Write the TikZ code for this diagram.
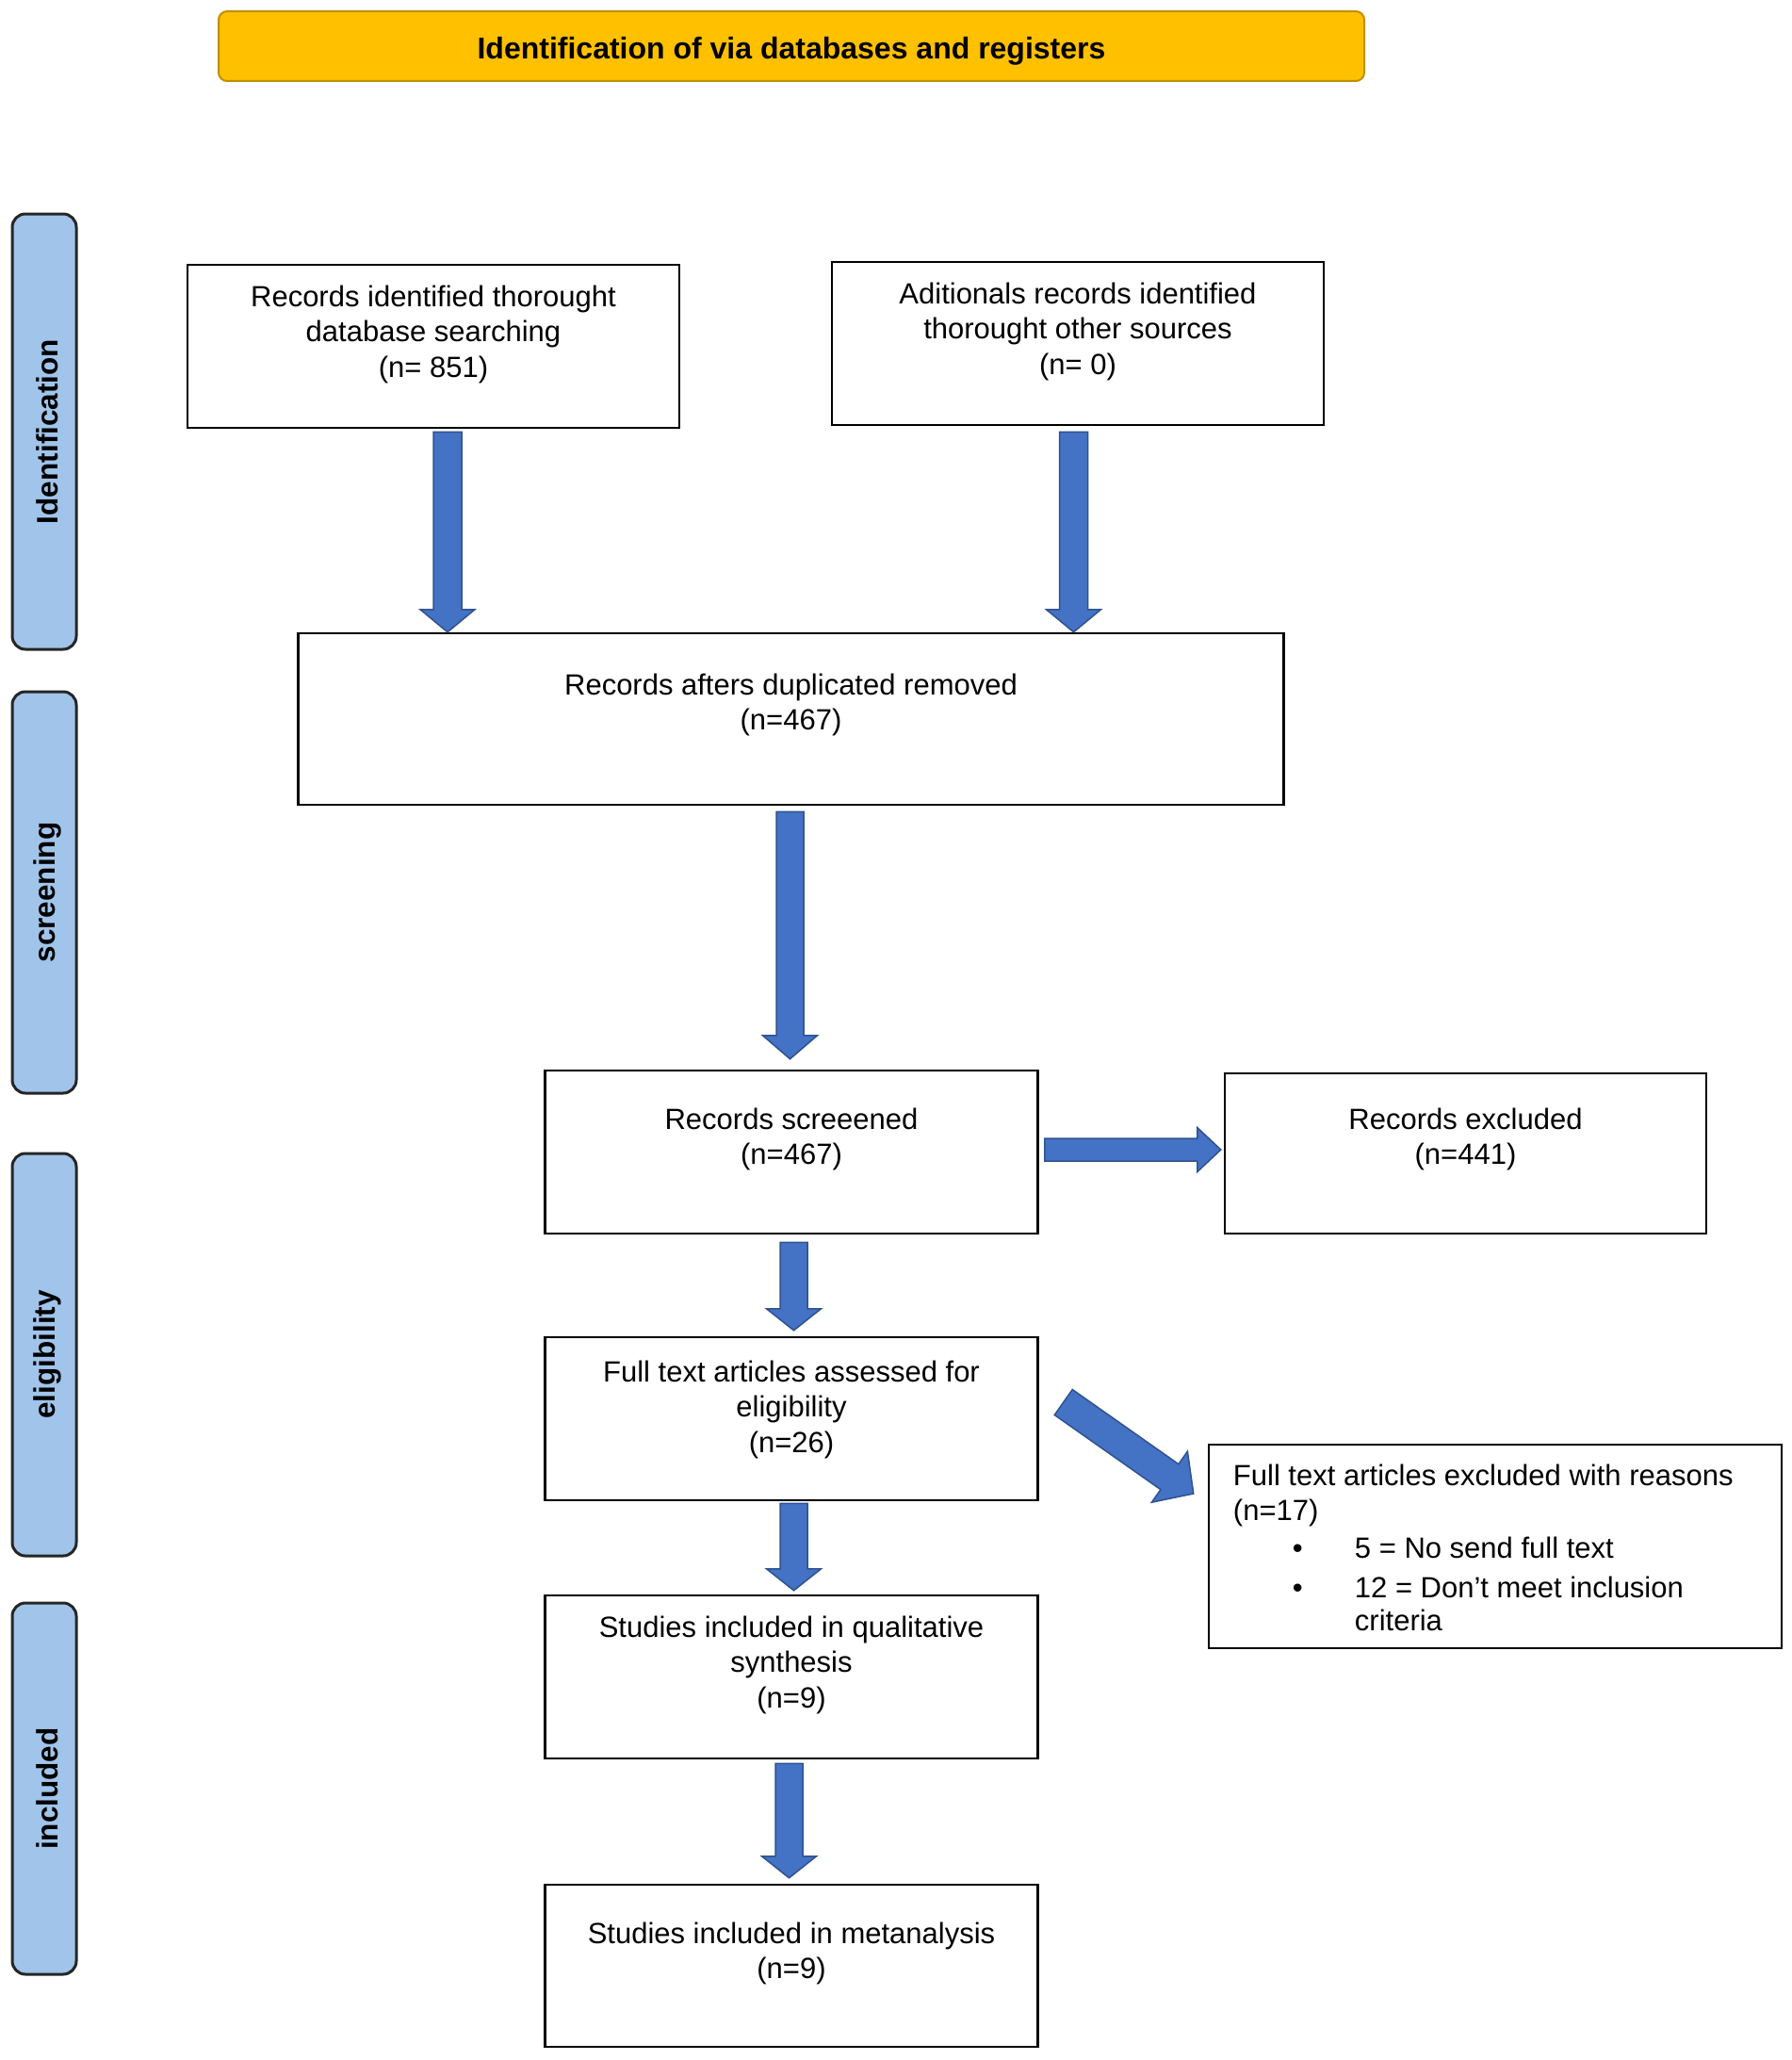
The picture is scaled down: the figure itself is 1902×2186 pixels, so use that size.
\documentclass[tikz,border=0pt]{standalone}
\usepackage{fontspec}
\setmainfont{Liberation Sans}
\usetikzlibrary{calc}
\definecolor{arrowblue}{HTML}{4472C4}
\definecolor{arrowedge}{HTML}{2F528F}
\definecolor{sideblue}{HTML}{A0C4EA}
\definecolor{bannerfill}{HTML}{FFC000}
\definecolor{banneredge}{HTML}{BF9000}
% block arrow: start, end, shaft half width, head half width, head length
\newcommand\blockarrow[5]{%
  \coordinate (bs) at (#1);
  \coordinate (be) at (#2);
  \coordinate (bh) at ($(be)!#5!(bs)$);
  \filldraw[blockarr] ($(bs)!#3!90:(be)$) -- ($(bh)!#3!90:(be)$) -- ($(bh)!#4!90:(be)$)
     -- (be) -- ($(bh)!#4!-90:(be)$) -- ($(bh)!#3!-90:(be)$) -- ($(bs)!#3!-90:(be)$) -- cycle;}
\begin{document}
\begin{tikzpicture}[x=1pt,y=-1pt,
  box/.style={draw=black, line width=2.5pt, fill=white, inner sep=0pt},
  txt/.style={anchor=north, align=center, inner sep=0pt, font=\fontsize{31}{37.5}\selectfont},
  side/.style={draw=black!85, line width=3pt, fill=sideblue, rounded corners=14pt, inner sep=0pt},
  sidetxt/.style={rotate=90, inner sep=0pt, font=\bfseries\fontsize{31.5}{37}\selectfont},
  bannerbox/.style={draw=banneredge, line width=2pt, fill=bannerfill, rounded corners=9pt, inner sep=0pt},
  bannertxt/.style={inner sep=0pt, font=\bfseries\fontsize{32}{38}\selectfont},
  blockarr/.style={fill=arrowblue, draw=arrowedge, line width=1.5pt, line join=miter}]
\useasboundingbox (0,0) rectangle (1902,2186);
\fill[white] (0,0) rectangle (1902,2186);

% banner
\node[bannerbox, minimum width=1216pt, minimum height=74pt] (ban) at (840,49) {};
\node[bannertxt] (bant) at ($(ban)+(0,5)$) {Identification of via databases and registers};

% side labels
\node[side, minimum width=68pt, minimum height=462pt] (s1) at (47,458) {};
\node[sidetxt] (s1t) at ($(s1)+(3,0)$) {Identification};
\node[side, minimum width=68pt, minimum height=426pt] (s2) at (47,947) {};
\node[sidetxt] (s2t) at ($(s2)+(3,0)$) {screening};
\node[side, minimum width=68pt, minimum height=427pt] (s3) at (47,1437.5) {};
\node[sidetxt] (s3t) at ($(s3)+(3,0)$) {eligibility};
\node[side, minimum width=68pt, minimum height=394pt] (s4) at (47,1898) {};
\node[sidetxt] (s4t) at ($(s4)+(3,0)$) {included};

% boxes
\node[box, minimum width=522pt, minimum height=173pt] (b1) at (460,367.5) {};
\node[txt] (t1) at ($(b1.north)+(0,19)$) {\strut Records identified thorought\\database searching\\(n= 851)};
\node[box, minimum width=522pt, minimum height=173pt] (b2) at (1144,364.5) {};
\node[txt] (t2) at ($(b2.north)+(0,19)$) {\strut Aditionals records identified\\thorought other sources\\(n= 0)};
\node[box, minimum width=1046pt, minimum height=182pt] (b3) at (839.5,763) {};
\node[txt] (t3) at ($(b3.north)+(0,40)$) {\strut Records afters duplicated removed\\(n=467)};
\node[box, minimum width=523pt, minimum height=173pt] (b4) at (840,1222.5) {};
\node[txt] (t4) at ($(b4.north)+(0,37)$) {\strut Records screeened\\(n=467)};
\node[box, minimum width=511pt, minimum height=170pt] (b5) at (1555.5,1224) {};
\node[txt] (t5) at ($(b5.north)+(0,34)$) {\strut Records excluded\\(n=441)};
\node[box, minimum width=523pt, minimum height=173pt] (b6) at (840,1505.5) {};
\node[txt] (t6) at ($(b6.north)+(0,22)$) {\strut Full text articles assessed for\\eligibility\\(n=26)};
\node[box, minimum width=608pt, minimum height=216pt] (b7) at (1587,1641) {};
\node[txt, anchor=north west, align=left] (t7) at ($(b7.north west)+(27,18)$)
  {\strut Full text articles excluded with reasons\\(n=17)\\[2pt]
   \makebox[129pt][l]{\hspace{63pt}\textbullet}5 = No send full text\\[5pt]
   \makebox[129pt][l]{\hspace{63pt}\textbullet}12 = Don’t meet inclusion\\[-3pt]
   \hspace*{129pt}criteria};
\node[box, minimum width=523pt, minimum height=173pt] (b8) at (840,1779.5) {};
\node[txt] (t8) at ($(b8.north)+(0,19)$) {\strut Studies included in qualitative\\synthesis\\(n=9)};
\node[box, minimum width=523pt, minimum height=172pt] (b9) at (840,2086) {};
\node[txt] (t9) at ($(b9.north)+(0,37)$) {\strut Studies included in metanalysis\\(n=9)};

% arrows
\coordinate (a1s) at ($(b1.south)+(15,3)$);
\coordinate (a1e) at (a1s |- b3.north);
\blockarrow{a1s}{a1e}{15pt}{29pt}{24pt}
\coordinate (a2s) at ($(b2.south)+(-4.5,6)$);
\coordinate (a2e) at (a2s |- b3.north);
\blockarrow{a2s}{a2e}{15pt}{29pt}{24pt}
\coordinate (a3s) at ($(b3.south)+(-1,6)$);
\coordinate (a3e) at ($(a3s |- b4.north)+(0,-11)$);
\blockarrow{a3s}{a3e}{14.5pt}{29pt}{25pt}
\coordinate (a4s) at ($(b4.east)+(6,-2.5)$);
\coordinate (a4e) at ($(a4s -| b5.west)+(-3,0)$);
\blockarrow{a4s}{a4e}{12pt}{23.5pt}{25pt}
\coordinate (a5s) at ($(b4.south)+(2.5,8)$);
\coordinate (a5e) at ($(a5s |- b6.north)+(0,-6)$);
\blockarrow{a5s}{a5e}{14.5pt}{29pt}{23pt}
\coordinate (a6s) at ($(b6.east)+(26,-17.5)$);
\coordinate (a6e) at ($(b7.west)+(-15,-56)$);
\blockarrow{a6s}{a6e}{16.5pt}{33pt}{31pt}
\coordinate (a7s) at ($(b6.south)+(2.5,2)$);
\coordinate (a7e) at ($(a7s |- b8.north)+(0,-4)$);
\blockarrow{a7s}{a7e}{14.5pt}{29pt}{23pt}
\coordinate (a8s) at ($(b8.south)+(-2.5,4)$);
\coordinate (a8e) at ($(a8s |- b9.north)+(0,-6)$);
\blockarrow{a8s}{a8e}{14.5pt}{29pt}{23pt}
\end{tikzpicture}
\end{document}
